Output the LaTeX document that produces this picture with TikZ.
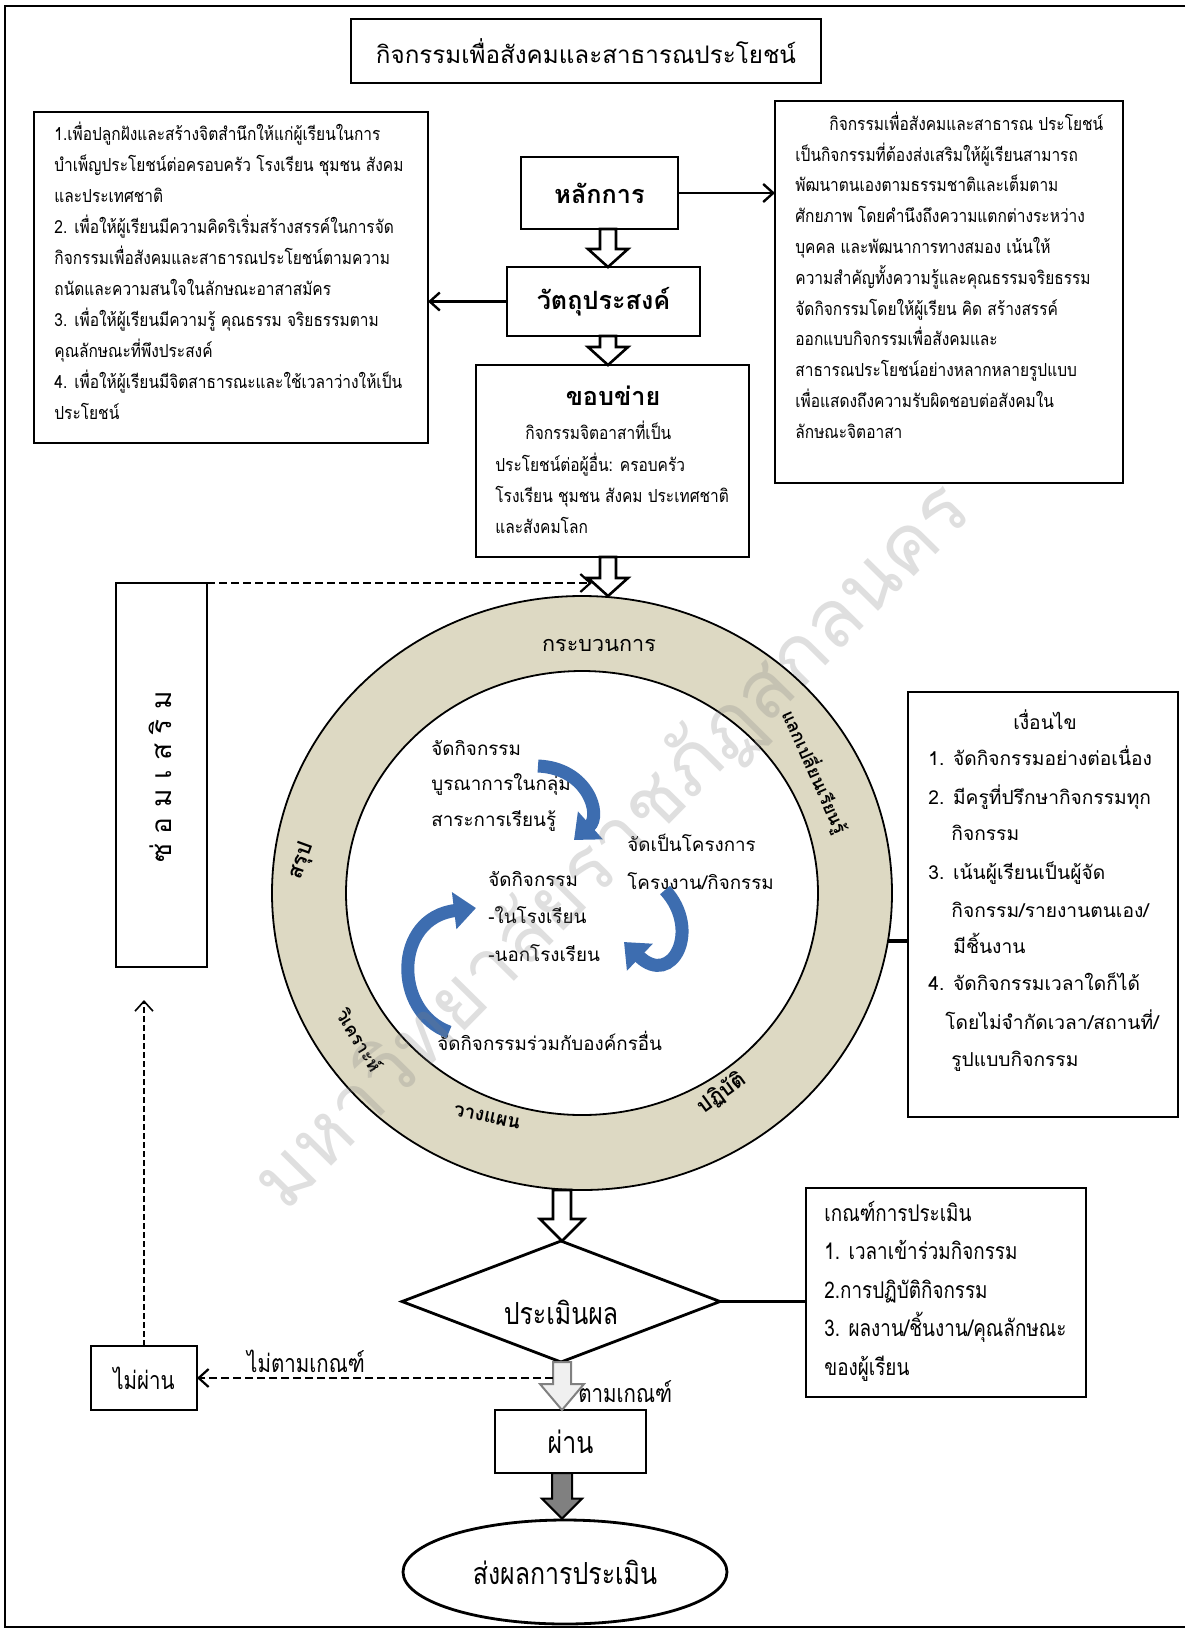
\documentclass[tikz,border=0pt]{standalone}
\usepackage{fontspec}
\setmainfont[Script=Thai]{Loma}
\newfontfamily\thn[Script=Thai,FakeStretch=0.82]{Loma}
\newfontfamily\thb[Script=Thai,FakeStretch=0.86]{Loma}
\usetikzlibrary{arrows.meta,shapes.geometric,calc}
\definecolor{ringfill}{HTML}{DDD9C3}
\definecolor{arrblue}{HTML}{3D6DB0}
\newcommand\blkarrow[6]{\draw[#1] let \p1=(#2), \p2=(#3) in
  ({\x1-#4},\y1) -- ({\x1+#4},\y1) -- ({\x1+#4},{\y2+#6}) -- ({\x1+#5},{\y2+#6})
  -- (\x1,\y2) -- ({\x1-#5},{\y2+#6}) -- ({\x1-#4},{\y2+#6}) -- cycle;}
\newcommand\tlines[5]{\foreach \ln [count=\i from 0] in {#5} {\node[tl] (#1\i) at (#2,{#3+\i*#4}) {\ln};}}
\begin{document}
\begin{tikzpicture}[x=0.5pt,y=-0.5pt,
  box/.style={draw,line width=1.4pt,inner sep=0,outer sep=0,fill=white},
  body/.style={font=\thb\fontsize{9}{10}\selectfont},
  inner/.style={font=\fontsize{9.4}{11}\selectfont},
  cond/.style={font=\fontsize{9.6}{11}\selectfont},
  tl/.style={anchor=mid west,inner sep=0},
  conn/.style={line width=1.2pt},
  barb/.style={-{Straight Barb[length=5pt,width=9pt]}},
  dashline/.style={line width=1.1pt,dash pattern=on 4pt off 2pt},
  ringlbl/.style={font=\bfseries\fontsize{9}{10}\selectfont,inner sep=0},
  bluearr/.style={draw=arrblue,line width=6.5pt,-{Triangle[length=11pt,width=18pt]}},
  hollow/.style={draw,fill=white,line width=1.3pt,line join=miter},
  head/.style={font=\bfseries\fontsize{12.6}{14}\selectfont},
  narrow/.style={font=\thn\fontsize{12.5}{14}\selectfont},
  big/.style={font=\thn\fontsize{15.2}{17}\selectfont}
]
\useasboundingbox (0,0) rectangle (1187,1630);
\draw[line width=0.6pt] (1185,6) -- (5,6) -- (5,1627) -- (1185,1627);

% title
\node[box,minimum width=235pt,minimum height=32pt,font=\fontsize{12.1}{15}\selectfont] (title) at (586,51) {กิจกรรมเพื่อสังคมและสาธารณประโยชน์};

% left objectives box
\node[box,minimum width=197pt,minimum height=165.5pt] (lb) at (231,277.5) {};
\begin{scope}[body]
\tlines{lbt}{54}{135}{31}{1.เพื่อปลูกฝังและสร้างจิตสำนึกให้แก่ผู้เรียนในการ,บำเพ็ญประโยชน์ต่อครอบครัว โรงเรียน ชุมชน สังคม,และประเทศชาติ,2. เพื่อให้ผู้เรียนมีความคิดริเริ่มสร้างสรรค์ในการจัด,กิจกรรมเพื่อสังคมและสาธารณประโยชน์ตามความ,ถนัดและความสนใจในลักษณะอาสาสมัคร,3. เพื่อให้ผู้เรียนมีความรู้ คุณธรรม จริยธรรมตาม,คุณลักษณะที่พึงประสงค์,4. เพื่อให้ผู้เรียนมีจิตสาธารณะและใช้เวลาว่างให้เป็น,ประโยชน์}
\end{scope}

% right principle box
\node[box,minimum width=174pt,minimum height=191pt] (rb) at (949,292) {};
\begin{scope}[body]
\node[tl] (rbt) at (829,125) {กิจกรรมเพื่อสังคมและสาธารณ ประโยชน์};
\tlines{rbu}{795}{156}{30.8}{เป็นกิจกรรมที่ต้องส่งเสริมให้ผู้เรียนสามารถ,พัฒนาตนเองตามธรรมชาติและเต็มตาม,ศักยภาพ โดยคำนึงถึงความแตกต่างระหว่าง,บุคคล และพัฒนาการทางสมอง เน้นให้,ความสำคัญทั้งความรู้และคุณธรรมจริยธรรม,จัดกิจกรรมโดยให้ผู้เรียน คิด สร้างสรรค์,ออกแบบกิจกรรมเพื่อสังคมและ,สาธารณประโยชน์อย่างหลากหลายรูปแบบ,เพื่อแสดงถึงความรับผิดชอบต่อสังคมใน,ลักษณะจิตอาสา}
\end{scope}

% centre column
\node[box,head,minimum width=78.5pt,minimum height=36pt] (hl) at (599.5,193) {หลักการ};
\node[box,head,minimum width=96.5pt,minimum height=34.5pt] (wt) at (603.5,301.5) {วัตถุประสงค์};
\node[box,minimum width=136.5pt,minimum height=96pt] (kb) at (612.5,461) {};
\node[head,inner sep=0] (kbh) at (613,396) {ขอบข่าย};
\begin{scope}[body]
\node[tl] (kbf) at (525,434) {กิจกรรมจิตอาสาที่เป็น};
\tlines{kbl}{495}{466}{31}{ประโยชน์ต่อผู้อื่น: ครอบครัว,โรงเรียน ชุมชน สังคม ประเทศชาติ,และสังคมโลก}
\end{scope}

\draw[conn,barb] (hl.east) -- (hl.east -| rb.west);
\draw[conn,barb] (wt.west) -- (wt.west -| lb.east);

\coordinate (ax) at (608,0);
\blkarrow{hollow}{hl.south -| ax}{wt.north -| ax}{4pt}{10pt}{9pt}
\blkarrow{hollow}{wt.south -| ax}{kb.north -| ax}{4pt}{10pt}{9pt}

% ring
\node[ellipse,draw,line width=0.9pt,fill=ringfill,minimum width=310pt,minimum height=297pt,inner sep=0,outer sep=0] (ring) at (582,893) {};
\node[ellipse,draw,line width=0.9pt,fill=white,minimum width=236pt,minimum height=222pt,inner sep=0,outer sep=0] (inring) at (582,893) {};
\blkarrow{hollow}{kb.south -| ax}{ring.north -| ax}{4pt}{10pt}{9pt}

\node[inner sep=0,font=\fontsize{10.8}{12}\selectfont] (kbw) at (599,645) {กระบวนการ};
\node[ringlbl,rotate=-66] (rl1) at (815,772) {แลกเปลี่ยนเรียนรู้};
\node[ringlbl,font=\bfseries\fontsize{10.5}{12}\selectfont,rotate=36] (rl2) at (722,1093) {ปฏิบัติ};
\node[ringlbl,font=\bfseries\fontsize{9.6}{11}\selectfont,rotate=-12] (rl3) at (487,1117) {วางแผน};
\node[ringlbl,rotate=-59] (rl4) at (360,1040) {วิเคราะห์};
\node[ringlbl,font=\bfseries\fontsize{10.5}{12}\selectfont,rotate=70] (rl5) at (302,861) {สรุป};

\begin{scope}[inner]
\tlines{ia}{431}{750}{35.5}{จัดกิจกรรม,บูรณาการในกลุ่ม,สาระการเรียนรู้}
\tlines{ib}{627}{846}{38}{จัดเป็นโครงการ,โครงงาน/กิจกรรม}
\tlines{ic}{488}{881}{37.5}{จัดกิจกรรม,-ในโรงเรียน,-นอกโรงเรียน}
\node[tl] (id) at (437,1045) {จัดกิจกรรมร่วมกับองค์กรอื่น};
\end{scope}

\draw[bluearr] (538,766) .. controls (588,768) and (602,815) .. (574,840);
\draw[bluearr] (665,890) .. controls (702,930) and (672,988) .. (624,942);
\draw[bluearr] (449,1032) .. controls (393,1012) and (393,918) .. (476,908);

% remedial box
\node[draw,line width=0.6pt,minimum width=45.5pt,minimum height=192pt,inner sep=0,outer sep=0] (zs) at (161.5,775) {};
\node[rotate=90,inner sep=0,font=\fontsize{14}{16}\selectfont] (zst) at (160,777) {ซ่ อ ม เ ส ริ ม};
\coordinate (dx) at (592,0);
\draw[dashline,barb] (zs.north east) -- (zs.north east -| dx);

% condition box
\node[box,minimum width=135pt,minimum height=212.5pt] (cd) at (1043,904.5) {};
\begin{scope}[cond]
\node[inner sep=0] (cdh) at (1045,720) {เงื่อนไข};
\node[tl] (c1) at (928,760) {1. จัดกิจกรรมอย่างต่อเนื่อง};
\node[tl] (c2) at (928,799) {2. มีครูที่ปรึกษากิจกรรมทุก};
\node[tl] (c2b) at (951,835) {กิจกรรม};
\node[tl] (c3) at (928,874) {3. เน้นผู้เรียนเป็นผู้จัด};
\node[tl] (c3b) at (951,912) {กิจกรรม/รายงานตนเอง/};
\node[tl] (c3c) at (953,948) {มีชิ้นงาน};
\node[tl] (c4) at (928,985) {4. จัดกิจกรรมเวลาใดก็ได้};
\node[tl] (c4b) at (945,1024) {โดยไม่จำกัดเวลา/สถานที่/};
\node[tl] (c4c) at (951,1061) {รูปแบบกิจกรรม};
\end{scope}
\draw[line width=2pt] (ring.-9.3) -- (ring.-9.3 -| cd.west);

% evaluation
\coordinate (bx) at (562,0);
\node[diamond,draw,line width=1.4pt,aspect=2.6,minimum width=159pt,minimum height=60.5pt,inner sep=0,outer sep=0,fill=white] (dm) at (561,1301.5) {};
\node[big,inner sep=0] (dmt) at (561,1312) {ประเมินผล};
\blkarrow{hollow}{ring.south -| bx}{dm.north -| bx}{4.5pt}{11pt}{11pt}

\node[box,minimum width=140pt,minimum height=104.5pt] (cr) at (946,1292.5) {};
\begin{scope}[font=\thn\fontsize{11.5}{13}\selectfont]
\tlines{crl}{824}{1216}{38.5}{เกณฑ์การประเมิน,1. เวลาเข้าร่วมกิจกรรม,2.การปฏิบัติกิจกรรม,3. ผลงาน/ชิ้นงาน/คุณลักษณะ,ของผู้เรียน}
\end{scope}
\draw[line width=1.4pt] (dm.east) -- (dm.east -| cr.west);

\node[box,narrow,minimum width=53pt,minimum height=32pt] (np) at (144,1378) {ไม่ผ่าน};
\node[box,big,minimum width=75.5pt,minimum height=31.5pt] (ps) at (570.5,1441.5) {ผ่าน};
\blkarrow{draw=gray,fill=gray!12,line width=1pt,line join=miter}{dm.south -| bx}{ps.north -| bx}{4.5pt}{11pt}{13pt}

\node[ellipse,draw,line width=1.4pt,minimum width=162pt,minimum height=52pt,inner sep=0,fill=white,big] (el) at (565,1572) {ส่งผลการประเมิน};
\blkarrow{draw=black,fill=gray,line width=1pt,line join=miter}{ps.south -| bx}{el.north -| bx}{5pt}{10pt}{10pt}

\coordinate (dsx) at (553,0);
\draw[dashline,barb] (np.east -| dsx) -- (np.east);
\coordinate (upy) at (0,1000);
\draw[line width=0.8pt,dash pattern=on 3pt off 1.5pt,barb] (np.north) -- (np.north |- upy);

\node[narrow,inner sep=0] (ntk) at (306,1361) {ไม่ตามเกณฑ์};
\node[narrow,anchor=mid west,inner sep=0] (tmk) at (578,1397) {ตามเกณฑ์};

% watermark
\node[rotate=45.4,text=gray,text opacity=0.25,inner sep=0,font=\fontsize{40}{40}\selectfont] (wm) at (613,847) {มหาวิทยาลัยราชภัฏสกลนคร};
\end{tikzpicture}
\end{document}
